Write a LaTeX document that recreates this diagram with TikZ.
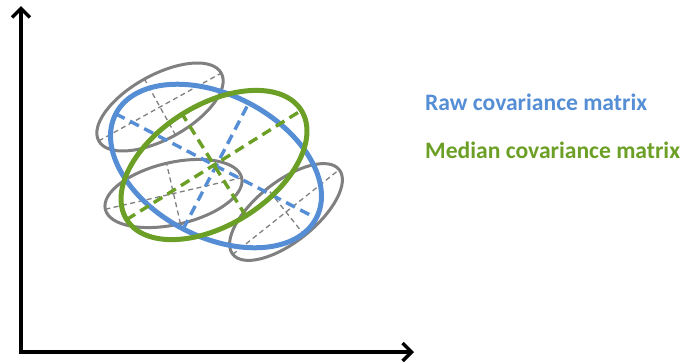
\documentclass[tikz,border=0pt]{standalone}
\usepackage{fontspec}
\setmainfont{Carlito}
\usetikzlibrary{arrows.meta}

\definecolor{rawblue}{HTML}{558ED5}
\definecolor{medgreen}{HTML}{6B9F25}
\definecolor{sampgray}{HTML}{808080}

\tikzset{
  % an ellipse together with its two principal axes, in local coordinates
  pics/covell/.style args={#1/#2/#3/#4}{code={
    \draw[#3] (0,0) ellipse [x radius=#1, y radius=#2];
    \draw[#4] (-#1,0) -- (#1,0) (0,-#2) -- (0,#2);
  }},
  rawline/.style={draw=rawblue, line width=5pt},
  rawaxis/.style={draw=rawblue, line width=3.4pt, dash pattern=on 10pt off 6pt},
  medline/.style={draw=medgreen, line width=5pt},
  medaxis/.style={draw=medgreen, line width=3.4pt, dash pattern=on 10pt off 6pt},
  sampline/.style={draw=sampgray, line width=3pt},
  sampaxis/.style={draw=sampgray, line width=1.3pt, dash pattern=on 5pt off 3.5pt},
  axisline/.style={draw=black, line width=3.5pt, -{Straight Barb[length=9pt,width=18pt]}},
  legend/.style={anchor=base west, inner sep=0pt, font=\fontsize{23.6}{28}\selectfont\bfseries}
}

\begin{document}
\begin{tikzpicture}[x=1pt, y=1pt]
  \useasboundingbox (0,-362) rectangle (685,0);

  % coordinate axes
  \coordinate (origin) at (21,-352);
  \coordinate (ytip) at (21,-6);
  \coordinate (xtip) at (414,-352);
  \draw[axisline] ([xshift=-1.75pt]origin) -- (xtip);
  \draw[axisline] ([yshift=-1.75pt]origin) -- (ytip);

  % individual sample covariances
  \pic[rotate=29]   at (160,-107)   {covell=70/32/sampline/sampaxis};
  \pic[rotate=13]   at (173.5,-193.5) {covell=70/31/sampline/sampaxis};
  \pic[rotate=38.5] at (286,-212)   {covell=68/30/sampline/sampaxis};

  % raw and median covariance
  \pic[rotate=-27.5] at (216,-166) {covell=113/71/rawline/rawaxis};
  \pic[rotate=32]    at (214,-165) {covell=103/60/medline/medaxis};

  % legend
  \node[legend, text=rawblue]  (rawlbl) at (425,-110) {Raw covariance matrix};
  \node[legend, text=medgreen] (medlbl) at (425,-158) {Median covariance matrix};
\end{tikzpicture}
\end{document}
